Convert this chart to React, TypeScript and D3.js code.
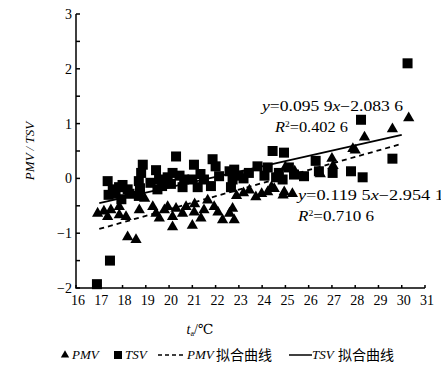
import * as d3 from "d3";

// TSV (thermal sensation vote) points: air temperature, vote
const tsvTemp = [
  16.9, 17.46, 17.36, 17.58, 17.85, 18.22, 17.4, 17.7, 18.0, 18.3, 17.95, 18.87, 18.8, 18.7,
  18.75, 18.7, 19.2, 19.44, 19.57, 19.5, 19.7, 19.94, 20.08, 20.3, 20.15, 20.45, 20.65, 20.58,
  21.0, 21.07, 21.23, 21.35, 21.5, 21.87, 22.0, 22.15, 21.8, 22.6, 22.8, 22.73, 22.66, 23.0,
  23.2, 23.43, 23.8, 24.1, 24.24, 24.45, 24.94, 24.72, 24.88, 24.6, 25.15, 25.37, 25.8, 26.3,
  26.44, 27.03, 27.82, 28.32, 28.25, 29.6, 30.25,
];
const tsvVote = [
  -1.93, -1.5, -0.05, -0.2, -0.16, -0.2, -0.3, -0.28, -0.12, -0.28, -0.38, 0.25, 0.1, -0.05,
  -0.18, -0.32, -0.08, 0.15, -0.02, -0.2, -0.14, 0.02, -0.1, 0.4, 0.1, 0.05, -0.02, -0.16,
  -0.02, 0.25, -0.16, 0.08, -0.02, 0.35, 0.22, 0.04, -0.14, 0.13, 0.16, -0.02, -0.16, 0.05,
  0.0, 0.1, 0.22, 0.05, 0.2, 0.5, 0.47, 0.1, -0.02, 0.02, 0.2, 0.07, 0.04, 0.32,
  0.13, 0.1, 0.13, 0.02, 1.07, 0.36, 2.1,
];

// PMV points: air temperature, predicted mean vote
const pmvTemp = [
  16.93, 17.2, 17.36, 17.5, 17.86, 17.86, 18.15, 18.22, 18.58, 18.72, 18.95, 19.3, 19.44,
  19.58, 19.8, 19.94, 20.15, 20.15, 20.3, 20.58, 20.73, 21.0, 21.08, 21.1, 21.37, 21.5, 21.66,
  21.94, 22.1, 22.3, 22.6, 22.73, 22.8, 22.9, 23.2, 23.45, 23.73, 23.98, 24.24, 24.4, 24.52,
  24.9, 24.95, 25.3, 25.0, 25.4, 26.5, 27.0, 27.05, 27.9, 28.0, 28.4, 29.6, 30.3,
];
const pmvVote = [
  -0.62, -0.58, -0.68, -0.56, -0.5, -0.65, -0.68, -1.05, -1.1, -0.56, -0.35, -0.5, -0.62,
  -0.71, -0.56, -0.5, -0.68, -0.87, -0.53, -0.62, -0.5, -0.84, -0.6, -0.45, -0.71, -0.56, -0.38,
  -0.5, -0.6, -0.74, -0.62, -0.53, -0.74, -0.3, -0.25, -0.2, -0.32, -0.26, -0.23, -0.14, -0.17,
  -0.29, -0.23, -0.26, 0.22, 0.15, 0.1, 0.38, 0.25, 0.56, 0.53, 0.77, 0.92, 1.12,
];

// fitted lines  y = a*x + b
const tsvFit = { a: 0.0959, b: -2.0836 };
const pmvFit = { a: 0.1195, b: -2.9541 };
const fitRange = [17, 30];

const xTicks = d3.range(16, 32);
const yTicks = [-2, -1, 0, 1, 2, 3];
const yMinorTicks = d3.range(-2, 3.01, 0.5);

const serif = "Liberation Serif, DejaVu Serif, serif";
const cjk = "Noto Sans CJK SC, sans-serif";

export default function App() {
  const x = d3.scaleLinear().domain([16, 31]).range([76, 425]);
  const y = d3.scaleLinear().domain([-2, 3]).range([288, 14]);

  const tsvLine = d3
    .line<number>()
    .x((t) => x(t))
    .y((t) => y(tsvFit.a * t + tsvFit.b));
  const pmvLine = d3
    .line<number>()
    .x((t) => x(t))
    .y((t) => y(pmvFit.a * t + pmvFit.b));

  const sq = 10;
  const tri = d3.symbol(d3.symbolTriangle, 55)() ?? "";
  const serifStyle = { fontFamily: serif };

  return (
    <svg
      width={441}
      height={371}
      style={{ position: "absolute", left: 0, top: 0, background: "#fff" }}
    >
      {/* axes */}
      <g stroke="#000" strokeWidth={1.5} fill="none">
        <path d={`M${x(16)},${y(3)}V${y(-2)}H${x(31)}`} />
        {yMinorTicks.map((v) => (
          <line key={v} x1={x(16)} x2={x(16) + 4} y1={y(v)} y2={y(v)} />
        ))}
        {xTicks.map((t) => (
          <line key={t} x1={x(t)} x2={x(t)} y1={y(-2)} y2={y(-2) - 3} />
        ))}
      </g>
      <g style={serifStyle} fontSize={14} fill="#000">
        {yTicks.map((v) => (
          <text key={v} x={x(16) - 4} y={y(v)} dy="0.35em" textAnchor="end">
            {v < 0 ? `\u2212${-v}` : v}
          </text>
        ))}
        {xTicks.map((t) => (
          <text key={t} x={x(t) + 2} y={y(-2) + 17} textAnchor="middle">
            {t}
          </text>
        ))}
      </g>

      {/* axis titles */}
      <text
        transform={`translate(34,${y(0.5)}) rotate(-90)`}
        textAnchor="middle"
        style={serifStyle}
        fontStyle="italic"
        fontSize={13}
      >
        PMV / TSV
      </text>
      <text x={200} y={334} textAnchor="middle" style={serifStyle} fontSize={14}>
        <tspan fontStyle="italic">t</tspan>
        <tspan fontSize={8} dy={2}>a</tspan>
        <tspan dy={-2}>/℃</tspan>
      </text>

      {/* points */}
      <g fill="#000">
        {tsvTemp.map((t, i) => (
          <rect key={i} x={x(t) - sq / 2} y={y(tsvVote[i]) - sq / 2} width={sq} height={sq} />
        ))}
        {pmvTemp.map((t, i) => (
          <path key={i} d={tri} transform={`translate(${x(t)},${y(pmvVote[i]) + 1})`} />
        ))}
      </g>

      {/* fit lines */}
      <path d={tsvLine(fitRange) ?? ""} stroke="#000" strokeWidth={1.8} fill="none" />
      <path
        d={pmvLine(fitRange) ?? ""}
        stroke="#000"
        strokeWidth={1.8}
        strokeDasharray="5,4"
        fill="none"
      />

      {/* equations */}
      <g style={serifStyle} fontSize={14} fill="#000">
        <text x={262} y={111} textLength={141} lengthAdjust="spacingAndGlyphs">
          <tspan fontStyle="italic">y</tspan>=0.095 9<tspan fontStyle="italic">x</tspan>−2.083 6
        </text>
        <text x={275} y={132} textLength={73} lengthAdjust="spacingAndGlyphs">
          <tspan fontStyle="italic">R</tspan>
          <tspan fontSize={8} dy={-5}>2</tspan>
          <tspan dy={5}>=0.402 6</tspan>
        </text>
        <text x={298} y={200} textLength={146} lengthAdjust="spacingAndGlyphs">
          <tspan fontStyle="italic">y</tspan>=0.119 5<tspan fontStyle="italic">x</tspan>−2.954 1
        </text>
        <text x={298} y={221} textLength={76} lengthAdjust="spacingAndGlyphs">
          <tspan fontStyle="italic">R</tspan>
          <tspan fontSize={8} dy={-5}>2</tspan>
          <tspan dy={5}>=0.710 6</tspan>
        </text>
      </g>

      {/* legend */}
      <g fontSize={13} fill="#000">
        <path d={d3.symbol(d3.symbolTriangle, 30)() ?? ""} transform="translate(65,355)" />
        <text x={72} y={359} style={serifStyle} fontStyle="italic">PMV</text>
        <rect x={114} y={351} width={8} height={8} />
        <text x={125} y={359} style={serifStyle} fontStyle="italic">TSV</text>
        <line x1={158} x2={186} y1={355} y2={355} stroke="#000" strokeWidth={1.5} strokeDasharray="4,3" />
        <text x={187} y={359} style={serifStyle} fontStyle="italic">PMV</text>
        <text x={216} y={360} style={{ fontFamily: cjk }} fontSize={14}>拟合曲线</text>
        <line x1={289} x2={312} y1={355} y2={355} stroke="#000" strokeWidth={1.5} />
        <text x={312} y={359} style={serifStyle} fontStyle="italic">TSV</text>
        <text x={338} y={360} style={{ fontFamily: cjk }} fontSize={14}>拟合曲线</text>
      </g>
    </svg>
  );
}
